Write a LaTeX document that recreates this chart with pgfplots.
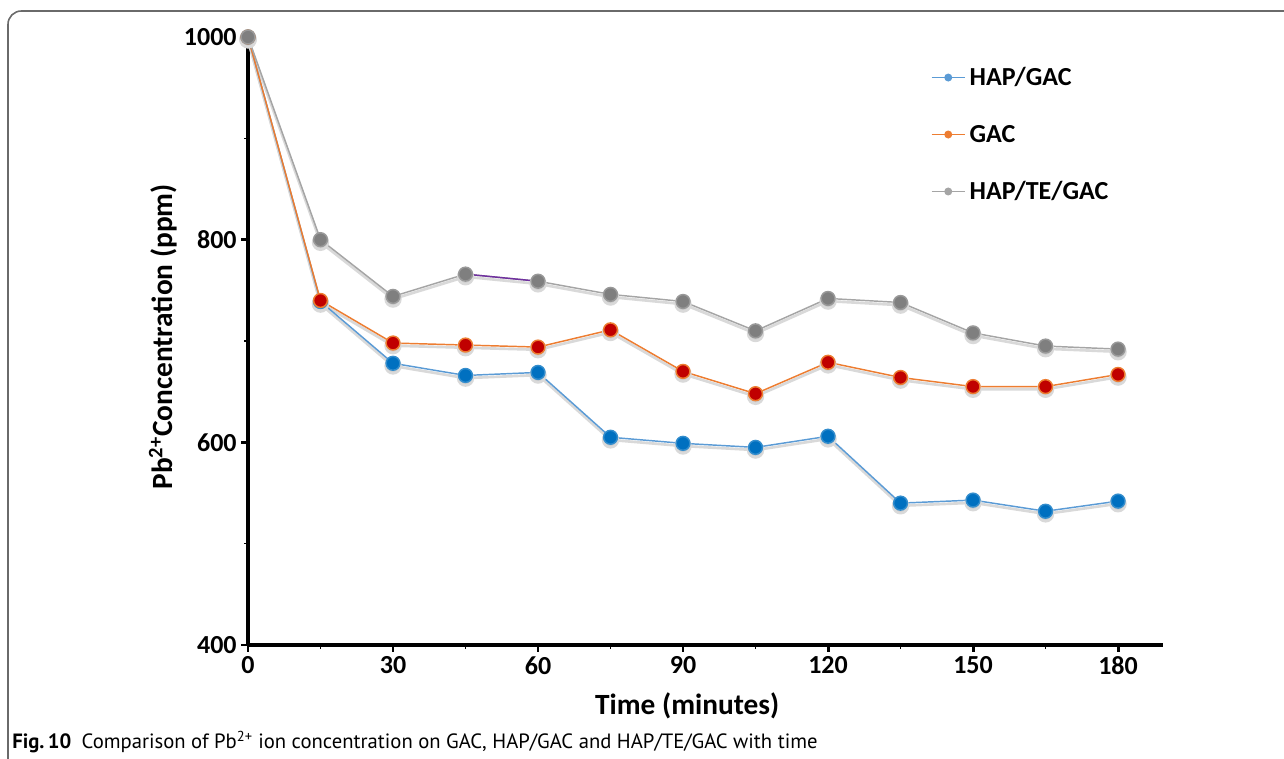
\documentclass[border=0pt]{standalone}
\usepackage{fontspec}
\setmainfont{Carlito}
\newfontfamily\capfont{PT Sans}
\usepackage{pgfplots}
\pgfplotsset{compat=1.18}
\usepackage{pgfplotstable}
\definecolor{bluem}{HTML}{0070C0}
\definecolor{bluel}{HTML}{5B9BD5}
\definecolor{redm}{HTML}{C00000}
\definecolor{orangel}{HTML}{ED7D31}
\definecolor{graym}{HTML}{7F7F7F}
\definecolor{grayl}{HTML}{A5A5A5}
\definecolor{purp}{HTML}{7030A0}
\definecolor{frame}{HTML}{6A6A6A}

\pgfplotstableread{
t c
0 1000
15 739
30 678
45 666
60 669
75 605
90 599
105 595
120 606
135 540
150 543
165 532
180 542
}\hapgac
\pgfplotstableread{
t c
0 1000
15 740
30 698
45 696
60 694
75 711
90 670
105 648
120 679
135 664
150 655
165 655
180 667
}\gac
\pgfplotstableread{
t c
0 1000
15 800
30 744
45 766
60 759
75 746
90 739
105 710
120 742
135 738
150 708
165 695
180 692
}\hapte

\begin{document}
\begin{tikzpicture}
\useasboundingbox (0,0) rectangle (963pt,-569.25pt);
\draw[frame, line width=1.2pt, rounded corners=10pt] (6pt,-8.25pt) rectangle (1000pt,-620pt);
\begin{axis}[
  at={(186pt,-483.75pt)}, anchor=south west,
  scale only axis,
  width=686.25pt, height=456pt,
  xmin=0, xmax=189.3, ymin=400, ymax=1000,
  clip=false,
  axis lines=left,
  axis line style={-, line width=3pt, black},
  xtick={0,30,...,180}, minor xtick={15,45,...,165},
  ytick={400,600,800,1000}, minor ytick={500,700,900},
  tick align=outside,
  major tick length=5pt, minor tick length=3pt,
  every major tick/.style={line width=2.2pt, black},
  every minor tick/.style={line width=0.8pt, black},
  /pgf/number format/assume math mode=true,
  /pgf/number format/1000 sep={},
  tick label style={font=\fontsize{19.5}{23}\selectfont\bfseries},
  xlabel={Time (minutes)},
  ylabel={Pb\textsuperscript{2+}Concentration (ppm)},
  label style={font=\fontsize{22}{26}\selectfont\bfseries},
  xlabel style={at={(axis description cs:0.48,0)}, anchor=center, yshift=-45.75pt},
  ylabel style={at={(axis description cs:-0.0929,0.507)}, anchor=center},
  legend style={at={(axis description cs:0.746,0.957)}, anchor=north west,
    draw=none, fill=none, inner sep=0pt, row sep=22pt,
    font=\fontsize{19.5}{23}\selectfont\bfseries,
    nodes={inner sep=3pt}},
  legend cell align=left,
  legend image code/.code={
    \draw[#1, mark=none] (0pt,0pt) -- (25pt,0pt);
    \fill[#1/.try, draw=none] (12.5pt,0pt) circle (3pt);
  },
]
% shadows
\addplot[black!15, line width=2pt, mark=*, mark size=5.5pt, forget plot, yshift=-2pt, mark options={draw=none, fill=black!20}] table[x=t,y=c]{\hapgac};
\addplot[black!15, line width=2pt, mark=*, mark size=5.5pt, forget plot, yshift=-2pt, mark options={draw=none, fill=black!20}] table[x=t,y=c]{\gac};
\addplot[black!15, line width=2pt, mark=*, mark size=5.5pt, forget plot, yshift=-2pt, mark options={draw=none, fill=black!20}] table[x=t,y=c]{\hapte};
% series
\addplot[bluel, line width=1.1pt, mark=*, mark size=5.2pt, mark options={draw=bluem!80!white, fill=bluem}] table[x=t,y=c]{\hapgac};
\addlegendentry{HAP/GAC}
\addplot[orangel, line width=1.1pt, mark=*, mark size=5.2pt, mark options={draw=orangel, fill=redm}] table[x=t,y=c]{\gac};
\addlegendentry{GAC}
\addplot[grayl, line width=1.1pt, mark=*, mark size=5.2pt, mark options={draw=graym!80!white, fill=graym}] table[x=t,y=c]{\hapte};
\addlegendentry{HAP/TE/GAC}
\addplot[purp, line width=1.1pt, forget plot, shorten <=5pt, shorten >=5pt] coordinates {(45,766) (60,759)};
\end{axis}
\node[anchor=base west, inner sep=0pt, font=\capfont\fontsize{15.5}{18}\selectfont] at (9pt,-561pt) {\textbf{Fig.\,10}\enspace Comparison of Pb\textsuperscript{2+} ion concentration on GAC, HAP/GAC and HAP/TE/GAC with time};
\end{tikzpicture}
\end{document}
